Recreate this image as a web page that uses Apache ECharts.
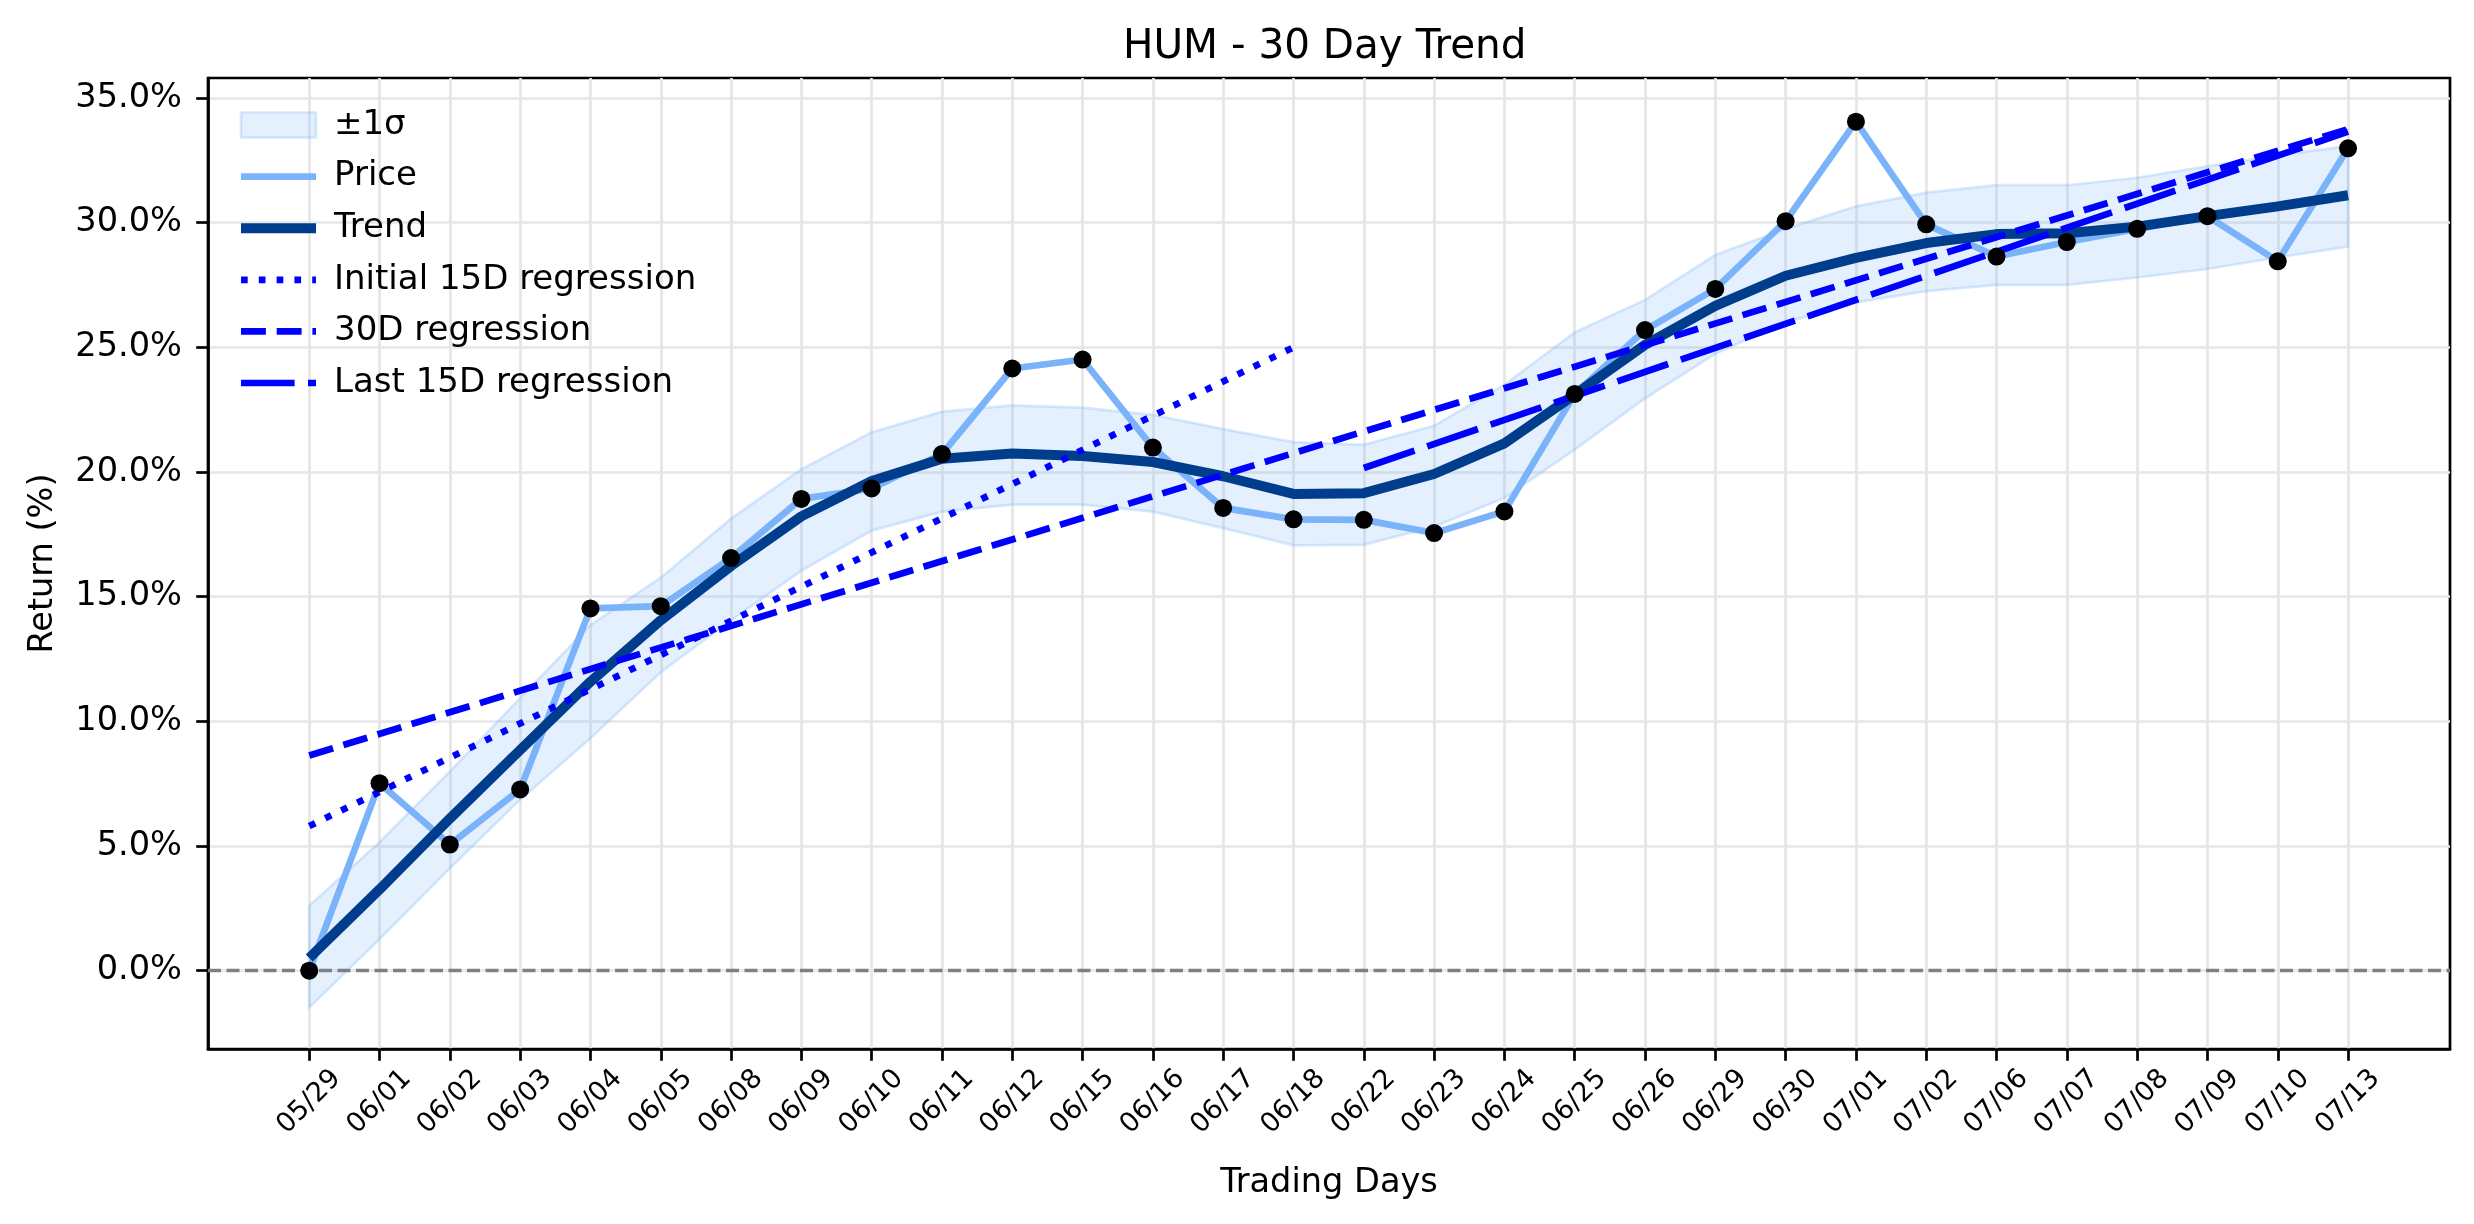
<!DOCTYPE html>
<html>
<head>
<meta charset="utf-8">
<title>HUM - 30 Day Trend</title>
<script src="https://cdn.jsdelivr.net/npm/echarts@6/dist/echarts.min.js"></script>
<style>
  html, body { margin: 0; padding: 0; background: #fff; }
  #chart { width: 2474px; height: 1224px; }
</style>
</head>
<body>
<div id="chart"></div>
<script>
// --- data ---
var dates = ['05/29', '06/01', '06/02', '06/03', '06/04', '06/05', '06/08', '06/09', '06/10', '06/11',
  '06/12', '06/15', '06/16', '06/17', '06/18', '06/22', '06/23', '06/24', '06/25', '06/26',
  '06/29', '06/30', '07/01', '07/02', '07/06', '07/07', '07/08', '07/09', '07/10', '07/13'];
var price = [0.0, 7.52, 5.06, 7.27, 14.53, 14.62, 16.55, 18.92, 19.34, 20.72,
  24.15, 24.51, 20.98, 18.56, 18.1, 18.08, 17.55, 18.42, 23.13, 25.69,
  27.34, 30.06, 34.05, 29.93, 28.64, 29.22, 29.75, 30.26, 28.45, 32.98];
var trend = [0.51, 3.26, 6.1, 8.85, 11.59, 14.05, 16.23, 18.22, 19.64, 20.53,
  20.74, 20.64, 20.4, 19.83, 19.12, 19.15, 19.92, 21.15, 23.1, 25.1,
  26.66, 27.87, 28.59, 29.18, 29.54, 29.57, 29.84, 30.26, 30.65, 31.1];
var sigmaUpper = [2.6, 5.15, 7.99, 10.93, 13.86, 15.76, 18.13, 20.11, 21.59, 22.42,
  22.67, 22.58, 22.29, 21.72, 21.2, 21.09, 21.85, 23.5, 25.6, 26.9,
  28.7, 29.75, 30.65, 31.2, 31.5, 31.5, 31.8, 32.26, 32.7, 33.07];
var sigmaLower = [-1.48, 1.27, 4.11, 6.86, 9.32, 11.97, 14.05, 16.04, 17.65, 18.41,
  18.69, 18.69, 18.41, 17.75, 17.06, 17.08, 17.81, 18.96, 20.9, 22.95,
  24.74, 26.0, 26.8, 27.25, 27.5, 27.5, 27.8, 28.14, 28.6, 29.04];
var yTicks = [0, 5, 10, 15, 20, 25, 30, 35];
// regressions: [first day index, last day index, value at first, value at last]
var regInitial = [0, 14, 5.8, 25.0];
var reg30 = [0, 29, 8.63, 33.75];
var regLast = [15, 29, 20.16, 33.65];

(function() {
  var font = 'DejaVu Sans';
  var priceColor = '#7ab3f9';
  var trendColor = '#003d8c';
  var regColor = '#0000ff';
  var bandFill = 'rgba(122,179,249,0.2)';
  var bandEdge = 'rgba(122,179,249,0.28)';
  var gridColor = '#e6e6e6';
  // legend line items: no marker in the middle
  var noMarker = { color: 'rgba(0,0,0,0)', borderWidth: 0, opacity: 0 };

  var xIdx = dates.map(function(d, i) { return i; });
  function pts(arr) { return arr.map(function(v, i) { return [i, v]; }); }
  function regPts(r) { return [[r[0], r[2]], [r[1], r[3]]]; }

  var chart = echarts.init(document.getElementById('chart'));
  chart.setOption({
    animation: false,
    backgroundColor: '#fff',
    title: {
      text: 'HUM - 30 Day Trend',
      left: 1123,
      top: 27,
      padding: 0,
      textStyle: { fontSize: 40.5, fontWeight: 'normal', color: '#000', fontFamily: font }
    },
    legend: {
      orient: 'vertical',
      left: 236,
      top: 108,
      padding: 0,
      itemWidth: 75,
      itemHeight: 25,
      itemGap: 17.6,
      selectedMode: false,
      textStyle: { fontSize: 34, color: '#000', fontFamily: font, padding: [0, 0, 0, 13] },
      data: [
        { name: '±1σ', icon: 'rect', itemStyle: { color: bandFill, borderColor: bandEdge, borderWidth: 2.7 } },
        { name: 'Price', itemStyle: noMarker, lineStyle: { color: priceColor, width: 6.7 } },
        { name: 'Trend', itemStyle: noMarker, lineStyle: { color: trendColor, width: 10 } },
        { name: 'Initial 15D regression', itemStyle: noMarker, lineStyle: { color: regColor, width: 6.7, type: [6.7, 11.1] } },
        { name: '30D regression', itemStyle: noMarker, lineStyle: { color: regColor, width: 6.7, type: [24.9, 10.8] } },
        { name: 'Last 15D regression', itemStyle: noMarker, lineStyle: { color: regColor, width: 6.7, type: [53.6, 13.4] } }
      ]
    },
    grid: {
      left: 208, right: 24, top: 78, bottom: 175,
      show: true, borderColor: '#000', borderWidth: 2.7,
      outerBoundsMode: 'none'
    },
    xAxis: {
      type: 'value',
      min: -1.44,
      max: 30.45,
      name: 'Trading Days',
      nameLocation: 'middle',
      nameGap: 117,
      nameTextStyle: { fontSize: 33.6, color: '#000', fontFamily: font },
      axisLine: { onZero: false, lineStyle: { color: '#000', width: 2.7 } },
      axisTick: { customValues: xIdx, length: 11.8, lineStyle: { color: '#000', width: 2.7 } },
      axisLabel: {
        customValues: xIdx,
        rotate: 45,
        align: 'center',
        verticalAlign: 'middle',
        margin: 53,
        fontSize: 27,
        color: '#000',
        fontFamily: font,
        formatter: function(v) { return dates[Math.round(v)]; }
      },
      splitLine: { show: true, lineStyle: { color: gridColor, width: 2.7 } }
    },
    yAxis: {
      type: 'value',
      min: -3.14,
      max: 35.8,
      name: 'Return (%)',
      nameLocation: 'middle',
      nameGap: 148,
      nameTextStyle: { fontSize: 33.6, color: '#000', fontFamily: font },
      axisLine: { show: true, onZero: false, lineStyle: { color: '#000', width: 2.7 } },
      axisTick: { show: true, customValues: yTicks, length: 11.8, lineStyle: { color: '#000', width: 2.7 } },
      axisLabel: {
        customValues: yTicks,
        margin: 26,
        fontSize: 33.6,
        color: '#000',
        fontFamily: font,
        formatter: function(v) { return v.toFixed(1) + '%'; }
      },
      splitLine: { show: true, lineStyle: { color: gridColor, width: 2.7 } }
    },
    series: [
      {
        name: '±1σ',
        type: 'custom',
        z: 1,
        silent: true,
        data: [0],
        renderItem: function(params, api) {
          var poly = [];
          sigmaUpper.forEach(function(v, i) { poly.push(api.coord([i, v])); });
          for (var i = sigmaLower.length - 1; i >= 0; i--) poly.push(api.coord([i, sigmaLower[i]]));
          return {
            type: 'polygon',
            shape: { points: poly },
            style: { fill: bandFill, stroke: bandEdge, lineWidth: 2.7 }
          };
        }
      },
      {
        name: 'Price',
        type: 'line',
        z: 2,
        data: pts(price),
        symbol: 'none',
        lineStyle: { color: priceColor, width: 6.7 },
        itemStyle: { color: priceColor },
        markLine: {
          silent: true,
          symbol: 'none',
          label: { show: false },
          lineStyle: { color: '#808080', type: [13, 5.5], width: 3.4 },
          data: [{ yAxis: 0 }]
        }
      },
      {
        name: 'Trend',
        type: 'line',
        z: 3,
        data: pts(trend),
        symbol: 'none',
        lineStyle: { color: trendColor, width: 10 },
        itemStyle: { color: trendColor }
      },
      {
        name: 'Initial 15D regression',
        type: 'line',
        z: 4,
        data: regPts(regInitial),
        symbol: 'none',
        lineStyle: { color: regColor, width: 6.7, type: [6.7, 11.1], cap: 'butt' },
        itemStyle: { color: regColor }
      },
      {
        name: '30D regression',
        type: 'line',
        z: 4,
        data: regPts(reg30),
        symbol: 'none',
        lineStyle: { color: regColor, width: 6.7, type: [24.9, 10.8], cap: 'butt' },
        itemStyle: { color: regColor }
      },
      {
        name: 'Last 15D regression',
        type: 'line',
        z: 4,
        data: regPts(regLast),
        symbol: 'none',
        lineStyle: { color: regColor, width: 6.7, type: [53.6, 13.4], cap: 'butt' },
        itemStyle: { color: regColor }
      },
      {
        name: 'points',
        type: 'scatter',
        z: 5,
        data: pts(price),
        symbolSize: 18,
        itemStyle: { color: '#000', opacity: 1 }
      }
    ]
  });
  window.addEventListener('resize', function() { chart.resize(); });
})();
</script>
</body>
</html>
